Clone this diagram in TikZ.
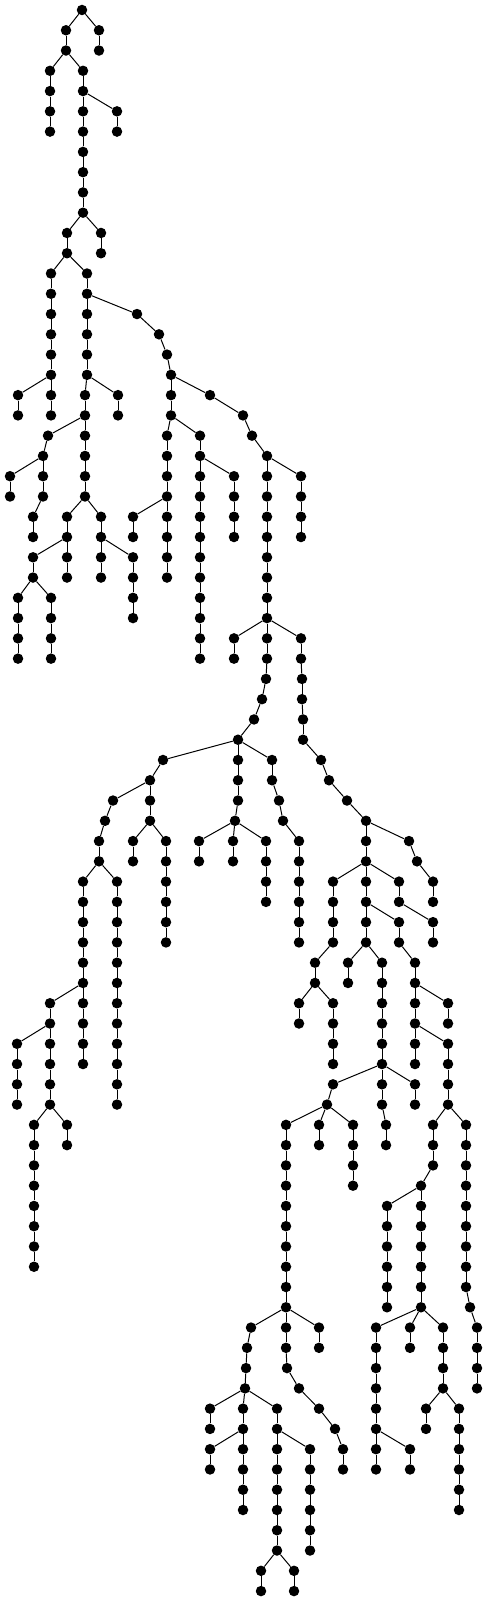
\documentclass[tikz,border=0pt]{standalone}
\tikzset{
  vertex/.style={shape=circle,fill=black,inner sep=0pt,minimum width=10.5pt},
  edge/.style={line width=1pt}
}
\begin{document}
\begin{tikzpicture}[x=1pt,y=-20.27pt]
  \useasboundingbox (0,-0.493) rectangle (487,78.49);
  \node (v82l0) [vertex] at (82,0) {};
  \foreach \x/\a/\b/\p in {
    66/1/2/v82l0, 99/1/2/v82l0, 50/3/6/v66l2, 83/3/10/v66l2,
    117/5/6/v83l4, 67/11/12/v83l10, 101/11/12/v83l10,
    51/13/18/v67l12, 87/13/18/v67l12, 18/19/20/v51l18, 51/19/20/v51l18,
    137/15/15/v87l14, 159/16/16/v137l15, 167/17/17/v159l16,
    171/18/20/v167l17, 85/19/24/v87l18, 118/19/20/v87l18,
    48/21/21/v85l20, 43/22/24/v48l21, 10/23/24/v43l22, 33/25/26/v43l24,
    67/25/28/v85l24, 101/25/28/v85l24, 33/27/28/v67l26,
    18/29/32/v33l28, 51/29/32/v33l28, 133/27/30/v101l26,
    167/21/28/v171l20, 133/25/26/v167l24, 200/21/32/v171l20,
    234/23/26/v200l22, 210/19/19/v171l18, 243/20/20/v210l19,
    252/21/21/v243l20, 267/22/32/v252l21, 301/23/26/v267l22,
    234/31/32/v267l30, 301/31/32/v267l30,
    266/33/33/v267l32, 262/34/34/v266l33, 254/35/35/v262l34,
    238/36/39/v254l35, 163/37/37/v238l36, 150/38/40/v163l37,
    113/39/39/v150l38, 105/40/40/v113l39, 99/41/42/v105l40,
    83/43/48/v99l42, 117/43/54/v99l42, 133/41/42/v150l40,
    166/41/46/v150l40, 235/40/40/v238l39, 199/41/42/v235l40,
    233/41/42/v235l40, 266/41/44/v235l40, 272/37/38/v238l36,
    279/39/39/v272l38, 283/40/40/v279l39, 299/41/46/v283l40,
    302/33/34/v301l32, 303/35/36/v302l34, 321/37/37/v303l36,
    329/38/38/v321l37, 347/39/39/v329l38, 366/40/46/v347l39,
    409/41/41/v366l40, 417/42/42/v409l41, 433/43/44/v417l42,
    333/43/46/v366l42, 399/43/44/v366l42, 399/45/46/v366l44,
    433/45/46/v399l44, 315/47/48/v333l46, 299/49/50/v315l48,
    333/49/52/v315l48, 348/47/48/v366l46, 382/47/54/v366l46,
    415/47/52/v399l46, 448/49/50/v415l48, 448/51/54/v415l50,
    333/53/53/v382l52, 415/53/54/v382l52, 386/55/56/v382l54,
    327/54/54/v333l53, 286/55/66/v327l54, 319/55/56/v327l54,
    353/55/58/v327l54, 50/49/54/v83l48, 83/49/52/v83l48,
    17/51/54/v50l50, 34/55/62/v50l54, 67/55/56/v50l54,
    433/55/57/v448l54, 466/55/63/v448l54, 421/58/64/v433l57,
    387/59/64/v421l58, 470/64/64/v466l63, 477/65/68/v470l64,
    376/65/72/v421l64, 410/65/66/v421l64, 443/65/68/v421l64,
    410/71/72/v376l70, 426/69/70/v443l68, 459/69/74/v443l68,
    251/65/65/v286l64, 247/66/66/v251l65, 246/67/67/v247l66,
    245/68/68/v246l67, 210/69/70/v245l68, 243/69/74/v245l68,
    277/69/76/v245l68, 210/71/72/v243l70, 310/71/76/v277l70,
    261/77/78/v277l76, 294/77/78/v277l76, 319/65/66/v286l64,
    287/67/67/v286l66, 299/68/68/v287l67, 319/69/69/v299l68,
    335/70/70/v319l69, 343/71/72/v335l70}{
    \node (v\x l\a) [vertex] at (\x,\a) {};
    \draw[edge] (\p) -- (v\x l\a);
    \ifnum\a<\b
      \pgfmathtruncatemacro\s{\a+1}
      \foreach \l in {\s,...,\b}{
        \pgfmathtruncatemacro\k{\l-1}
        \node (v\x l\l) [vertex] at (\x,\l) {};
        \draw[edge] (v\x l\k) -- (v\x l\l);
      }
    \fi
  }
\end{tikzpicture}
\end{document}
